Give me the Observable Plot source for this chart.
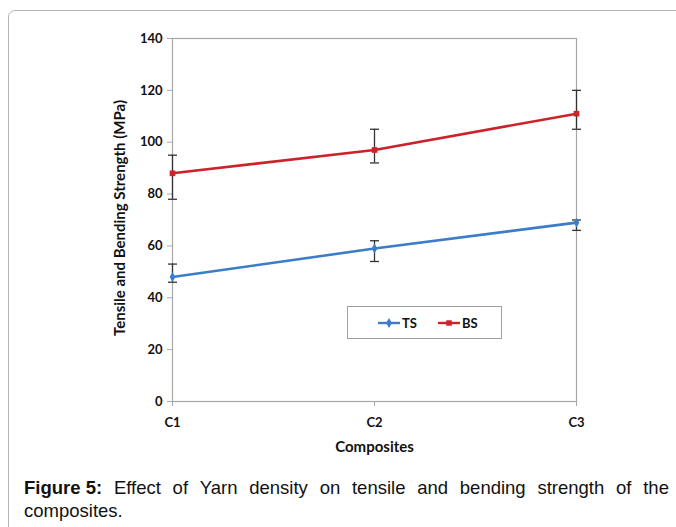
<!DOCTYPE html>
<html><head><meta charset="utf-8">
<script src="https://cdn.jsdelivr.net/npm/d3@7"></script>
<script src="https://cdn.jsdelivr.net/npm/@observablehq/plot@0.6"></script>
<style>
html,body{margin:0;padding:0;background:#fff;width:676px;height:527px;overflow:hidden;position:relative;font-family:"Liberation Sans",Arial,sans-serif;}
#frame{position:absolute;left:8px;top:10px;width:720px;height:600px;border:1px solid #b4b4b4;border-radius:7px;box-sizing:border-box;}
#chart{position:absolute;left:0;top:0;}
#legend{position:absolute;left:347px;top:306px;width:155px;height:33px;border:1px solid #a0a0a0;box-sizing:border-box;background:#fff;}
#caption{position:absolute;left:24px;top:477px;width:645px;font-size:18.5px;line-height:22.5px;color:#111;}
#caption .l1{text-align:justify;text-align-last:justify;white-space:nowrap;display:flex;justify-content:space-between;}
</style></head>
<body>
<div id="frame"></div>
<div id="chart"></div>
<div id="legend"></div>
<div id="caption">
  <div class="l1"><b>Figure 5:</b><span>Effect</span><span>of</span><span>Yarn</span><span>density</span><span>on</span><span>tensile</span><span>and</span><span>bending</span><span>strength</span><span>of</span><span>the</span></div>
  <div>composites.</div>
</div>
<script>
const categories = ["C1", "C2", "C3"];
const tsValues = [48, 59, 69];
const tsLow = [46, 54, 66];
const tsHigh = [53, 62, 70];
const bsValues = [88, 97, 111];
const bsLow = [78, 92, 105];
const bsHigh = [95, 105, 120];
const yTicks = [0, 20, 40, 60, 80, 100, 120, 140];
const seriesNames = ["TS", "BS"];
const seriesColors = ["#3b7dc8", "#cc2229"];

const rows = [];
categories.forEach((c, i) => {
  rows.push({cat: c, series: "TS", v: tsValues[i], lo: tsLow[i], hi: tsHigh[i]});
  rows.push({cat: c, series: "BS", v: bsValues[i], lo: bsLow[i], hi: bsHigh[i]});
});
const capSymbol = {draw(ctx, size) { const w = 4.5; ctx.moveTo(-w, 0); ctx.lineTo(w, 0); }};
const font = "Lato, 'Open Sans', sans-serif";

const plot = Plot.plot({
  width: 676, height: 470,
  marginLeft: 172, marginRight: 100, marginTop: 38, marginBottom: 69,
  style: {fontFamily: font, fontWeight: "bold", fontSize: "13px", color: "#111", background: "transparent"},
  x: {type: "point", domain: categories, padding: 0},
  y: {domain: [0, 140]},
  color: {domain: seriesNames, range: seriesColors},
  marks: [
    Plot.frame({stroke: "#a8a8a8", strokeWidth: 1.2}),
    Plot.axisY({ticks: yTicks, tickSize: 5, tickPadding: 5, stroke: "#a8a8a8", label: null, fontSize: 13, fontWeight: "bold", fill: "#111"}),
    Plot.axisX({tickSize: 5, tickPadding: 11, stroke: "#a8a8a8", label: null, fontSize: 13, fontWeight: "bold", fill: "#111"}),
    Plot.text(["Tensile and Bending Strength (MPa)"], {frameAnchor: "left", textAnchor: "middle", dx: -52, dy: -2, rotate: -90, fontSize: 15, fontWeight: "bold", fill: "#111"}),
    Plot.text(["Composites"], {frameAnchor: "bottom", textAnchor: "middle", dy: 50, fontSize: 15, fontWeight: "bold", fill: "#111"}),
    Plot.line(rows, {x: "cat", y: "v", z: "series", stroke: "series", strokeWidth: 2.6}),
    Plot.ruleX(rows, {x: "cat", y1: "lo", y2: "hi", stroke: "#333", strokeWidth: 1.3}),
    Plot.dot(rows, {x: "cat", y: "lo", symbol: capSymbol, stroke: "#333", strokeWidth: 1.3, r: 3}),
    Plot.dot(rows, {x: "cat", y: "hi", symbol: capSymbol, stroke: "#333", strokeWidth: 1.3, r: 3}),
    Plot.dot(rows.filter(d => d.series === "TS"), {x: "cat", y: "v", symbol: "diamond", fill: seriesColors[0], r: 3}),
    Plot.dot(rows.filter(d => d.series === "BS"), {x: "cat", y: "v", symbol: "square", fill: seriesColors[1], r: 3.2})
  ]
});
document.getElementById("chart").appendChild(plot);

// legend
const leg = d3.select("#legend").append("svg").attr("width", 153).attr("height", 31);
const items = [{name: seriesNames[0], color: seriesColors[0], sym: d3.symbolDiamond, x0: 30}, {name: seriesNames[1], color: seriesColors[1], sym: d3.symbolSquare, x0: 90}];
items.forEach(it => {
  leg.append("line").attr("x1", it.x0).attr("x2", it.x0 + 22).attr("y1", 16).attr("y2", 16).attr("stroke", it.color).attr("stroke-width", 2.4);
  leg.append("path").attr("d", d3.symbol(it.sym, 30)()).attr("transform", `translate(${it.x0 + 11},16)`).attr("fill", it.color);
  leg.append("text").attr("x", it.x0 + 24).attr("y", 21).text(it.name).attr("font-family", font).attr("font-weight", "bold").attr("font-size", 13).attr("fill", "#111");
});
</script>
</body></html>
